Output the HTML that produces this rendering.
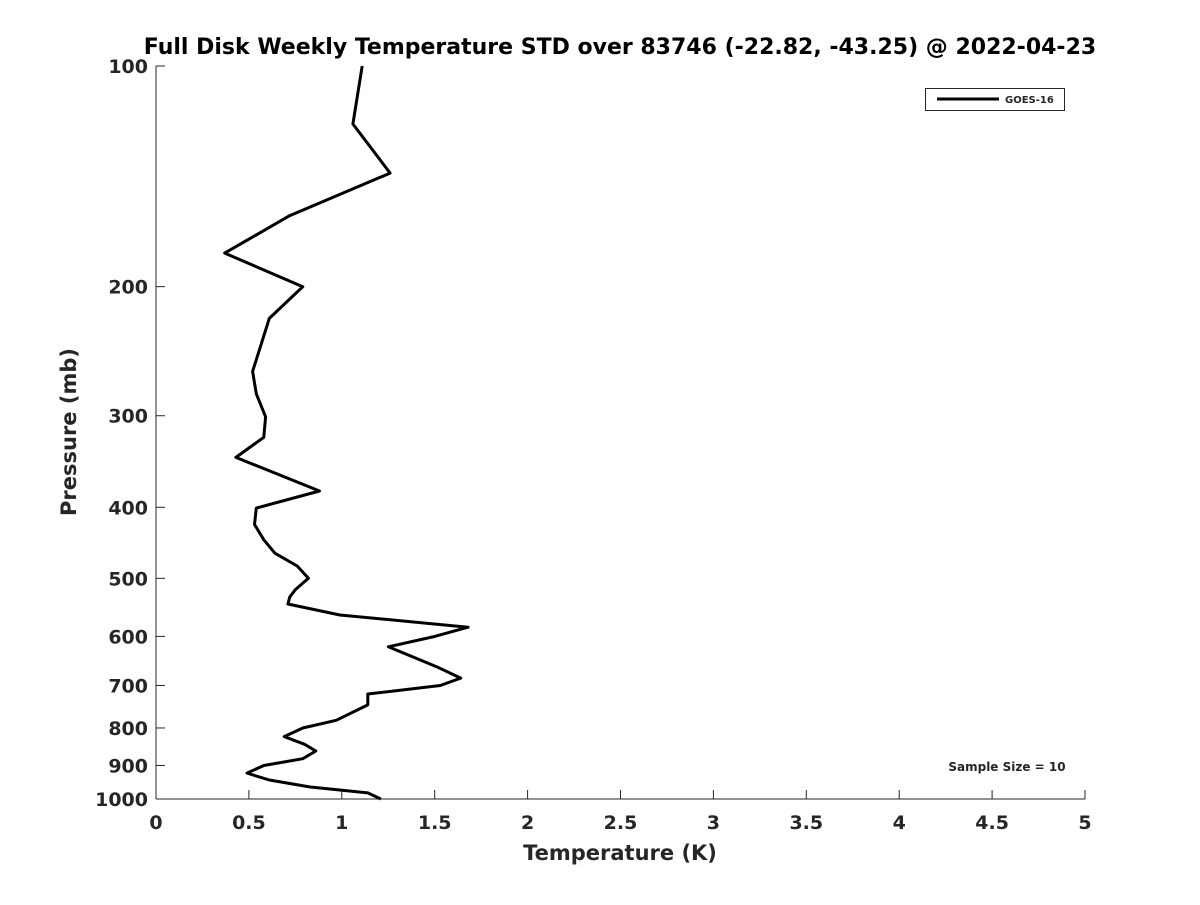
<!DOCTYPE html>
<html><head><meta charset="utf-8"><style>
body{margin:0;background:#fff;}
svg text{font-family:"DejaVu Sans","Liberation Sans",sans-serif;font-weight:bold;fill:#262626;}
</style></head><body>
<svg id="chart" width="1200" height="900" xmlns="http://www.w3.org/2000/svg">
<text x="620" y="54" font-size="22" text-anchor="middle" fill="#000" style="fill:#000">Full Disk Weekly Temperature STD over 83746 (-22.82, -43.25) @ 2022-04-23</text>
<g id="axes"></g>
<polyline id="series" fill="none" stroke="#000" stroke-width="3" stroke-linejoin="round"/>
<g>
<rect x="925.5" y="88.5" width="139" height="22" fill="#fff" stroke="#262626" stroke-width="1"/>
<line x1="937" y1="99" x2="999" y2="99" stroke="#000" stroke-width="3"/>
<text x="1005" y="103" font-size="10">GOES-16</text>
</g>
<text x="1007" y="771" font-size="12" text-anchor="middle">Sample Size = 10</text>
<text x="620" y="860" font-size="21" text-anchor="middle">Temperature (K)</text>
<text transform="translate(76,432) rotate(-90)" font-size="21" text-anchor="middle">Pressure (mb)</text>
</svg>
<script>
const xTicks=[0,0.5,1,1.5,2,2.5,3,3.5,4,4.5,5];
const xTickLabels=["0","0.5","1","1.5","2","2.5","3","3.5","4","4.5","5"];
const yTicks=[100,200,300,400,500,600,700,800,900,1000];
const yTickLabels=["100","200","300","400","500","600","700","800","900","1000"];
const pressures=[100,120,140,160,180,200,221,261,280,301,321,342,380,401,422,443,462,481,500,518,530,542,561,583,601,620,660,684,700,719,744,781,800,822,842,860,881,900,922,942,963,981,1000];
const stdValues=[1.11,1.06,1.26,0.72,0.37,0.79,0.61,0.52,0.54,0.59,0.58,0.43,0.88,0.54,0.53,0.58,0.64,0.76,0.82,0.75,0.72,0.71,0.99,1.68,1.49,1.25,1.51,1.64,1.53,1.14,1.14,0.97,0.79,0.69,0.80,0.86,0.79,0.58,0.49,0.61,0.83,1.14,1.21];
const X0=156,X1=1085,Y0=66,Y1=799;
const xs=v=>X0+(v-0)/(5-0)*(X1-X0);
const ys=p=>Y0+(Math.log10(p)-2)/1*(Y1-Y0);
const NS="http://www.w3.org/2000/svg";
const g=document.getElementById('axes');
function mk(t,a){const e=document.createElementNS(NS,t);for(const k in a)e.setAttribute(k,a[k]);g.appendChild(e);return e;}
let l=mk('line',{x1:X0,y1:Y1,x2:X1,y2:Y1,stroke:'#262626','stroke-width':1});


l=mk('line',{x1:X0,y1:Y0,x2:X0,y2:Y1,stroke:'#262626','stroke-width':1});


xTicks.forEach((v,i)=>{const x=xs(v);
 mk('line',{x1:x,y1:Y1,x2:x,y2:Y1-9,stroke:'#262626'});
 const t=mk('text',{x:x,y:Y1+30,'font-size':19,'text-anchor':'middle'});t.textContent=xTickLabels[i];
 
 
});
yTicks.forEach((v,i)=>{const y=ys(v);
 mk('line',{x1:X0,y1:y,x2:X0+9,y2:y,stroke:'#262626'});
 const t=mk('text',{x:X0-8,y:y+7,'font-size':19,'text-anchor':'end'});t.textContent=yTickLabels[i];
 
 
});
document.getElementById('series').setAttribute('points',pressures.map((p,i)=>xs(stdValues[i]).toFixed(1)+','+ys(p).toFixed(1)).join(' '));
</script>
</body></html>
